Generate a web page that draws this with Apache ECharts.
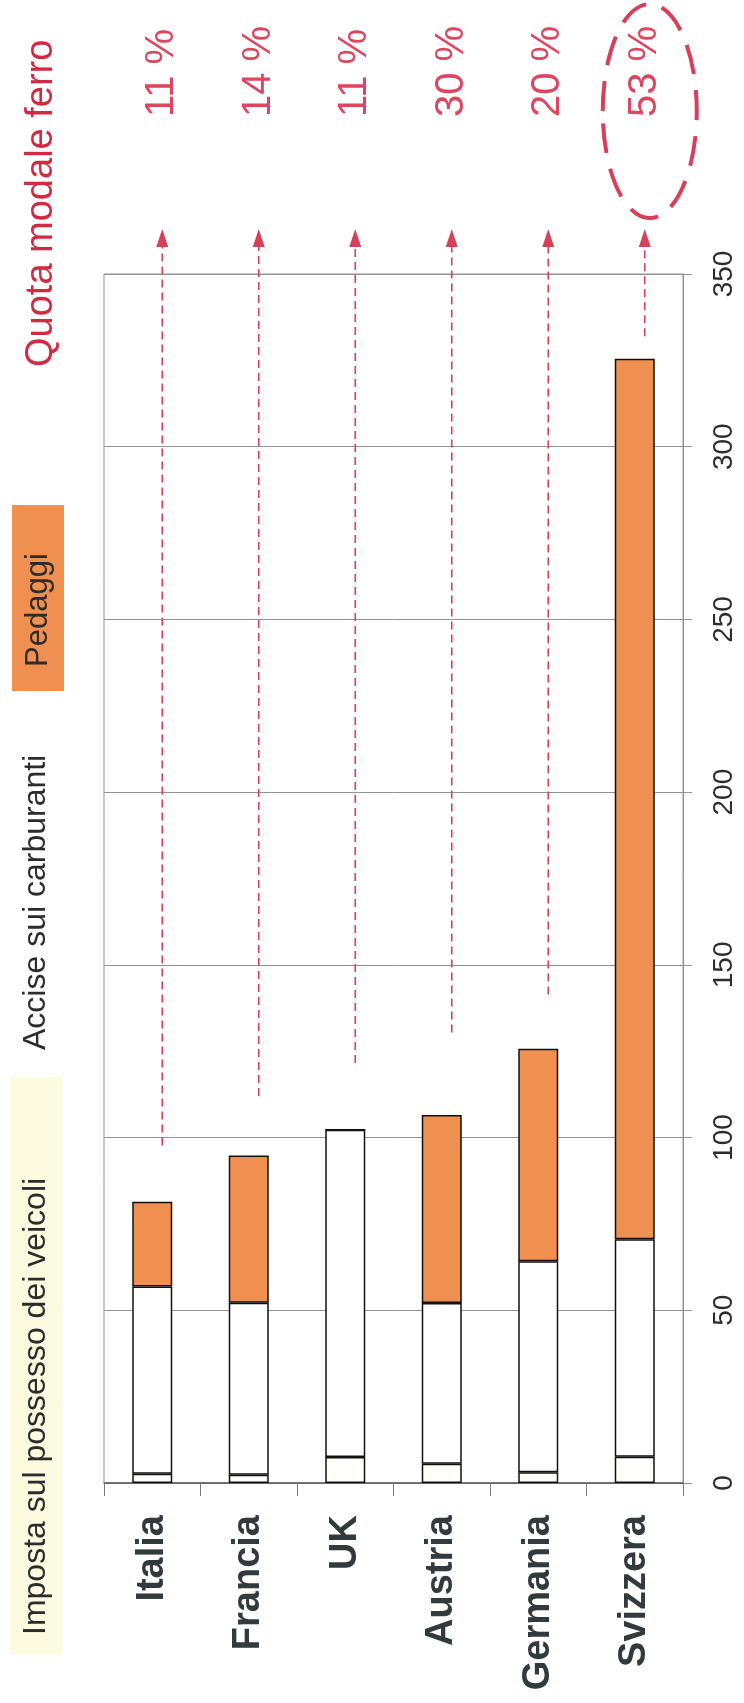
<!DOCTYPE html>
<html>
<head>
<meta charset="utf-8">
<script src="https://cdn.jsdelivr.net/npm/echarts@6/dist/echarts.min.js"></script>
<style>
  html, body { margin: 0; padding: 0; background: #ffffff; }
  #chart { width: 744px; height: 1703px; }
</style>
</head>
<body>
<div id="chart"></div>
<script>
// Road charges per country, stacked by type of levy
const categories = ['Italia', 'Francia', 'UK', 'Austria', 'Germania', 'Svizzera'];
const impostaPossesso = [2.7, 2.4, 7.5, 5.6, 3.1, 7.6];
const acciseCarburanti = [54.2, 49.8, 94.8, 46.5, 61.1, 63.0];
const pedaggi = [24.5, 42.6, 0, 54.4, 61.5, 254.9];

// Rail modal share per country, with the arrow that points to it
const quotaModaleFerro = ['11 %', '14 %', '11 %', '30 %', '20 %', '53 %'];
const arrowFrom = [97.7, 112, 121.6, 130.4, 141.4, 332];
const arrowTo = 363;
const highlighted = 'Svizzera';

const seriesNames = ['Imposta sul possesso dei veicoli', 'Accise sui carburanti', 'Pedaggi'];
const titleText = 'Quota modale ferro';

const FONT = '"Liberation Sans", Arial, Helvetica, sans-serif';
const ORANGE = '#EF8F50';
const PALE = '#FCFADF';
const RED_TITLE = '#D22A40';
const RED_PCT = '#DC4660';
const RED_ARROW = '#D8405A';
const INK = '#2c2c2c';
const GRID = '#929292';

const chart = echarts.init(document.getElementById('chart'), null, { renderer: 'canvas' });

const barBorder = { borderColor: '#111', borderWidth: 1.5 };

function rotatedText(text, x, y, size, color, weight) {
  return {
    type: 'text', x: x, y: y, rotation: Math.PI / 2, z: 10,
    style: {
      text: text, fill: color, fontSize: size, fontFamily: FONT, fontWeight: weight || 'normal',
      align: 'left', textAlign: 'left', verticalAlign: 'middle', textVerticalAlign: 'middle'
    }
  };
}

const option = {
  backgroundColor: '#ffffff',
  animation: false,
  grid: {
    left: 104, right: 61, top: 274, bottom: 220,
    show: true, borderColor: GRID, borderWidth: 1, backgroundColor: 'transparent'
  },
  xAxis: {
    type: 'category',
    data: categories,
    position: 'bottom',
    boundaryGap: true,
    axisLine: { show: true, lineStyle: { color: '#5a5a5a', width: 1.5 } },
    axisTick: { show: true, length: 13, lineStyle: { color: '#7a7a7a', width: 1 } },
    axisLabel: {
      rotate: 90, margin: 32, fontSize: 38, fontWeight: 'bold', fontFamily: FONT, color: '#333a3e'
    },
    splitLine: { show: false }
  },
  yAxis: {
    type: 'value',
    position: 'right',
    min: 0, max: 350, interval: 50,
    axisLine: { show: true, lineStyle: { color: GRID, width: 1 } },
    axisTick: { show: true, length: 9, lineStyle: { color: GRID, width: 1 } },
    axisLabel: { rotate: 90, margin: 27, fontSize: 28, fontFamily: FONT, color: INK },
    splitLine: { show: true, lineStyle: { color: GRID, width: 1 } }
  },
  series: [
    {
      name: seriesNames[0], type: 'bar', stack: 'tot', barWidth: 40,
      itemStyle: Object.assign({ color: '#FFFFFC' }, barBorder),
      data: impostaPossesso
    },
    {
      name: seriesNames[1], type: 'bar', stack: 'tot', barWidth: 40,
      itemStyle: Object.assign({ color: '#FFFFFF' }, barBorder),
      data: acciseCarburanti
    },
    {
      name: seriesNames[2], type: 'bar', stack: 'tot', barWidth: 40,
      itemStyle: Object.assign({ color: ORANGE }, barBorder),
      data: pedaggi
    },
    {
      // dashed arrows leading to the rail share of each country
      type: 'custom',
      clip: false,
      z: 5,
      encode: { x: 0, y: [1, 2] },
      data: arrowFrom.map(function (v, i) { return [i, v, arrowTo]; }),
      renderItem: function (params, api) {
        const i = params.dataIndex;
        const base = api.coord([api.value(0), api.value(1)]);
        const tip = api.coord([api.value(0), api.value(2)]);
        const x = base[0] + 10;
        const headLen = 18, headHalf = 6;
        const children = [
          {
            type: 'line',
            shape: { x1: x, y1: base[1], x2: x, y2: tip[1] + headLen },
            style: { stroke: RED_ARROW, lineWidth: 1.6, lineDash: [8, 5] }
          },
          {
            type: 'polygon',
            shape: { points: [[x, tip[1]], [x - headHalf, tip[1] + headLen], [x + headHalf, tip[1] + headLen]] },
            style: { fill: RED_ARROW }
          },
          {
            type: 'text', x: x, y: tip[1] - 112, rotation: Math.PI / 2,
            style: {
              text: quotaModaleFerro[i], fill: RED_PCT, fontSize: 40, fontFamily: FONT,
              align: 'left', verticalAlign: 'middle'
            }
          }
        ];
        if (categories[i] === highlighted) {
          children.push({
            type: 'ellipse',
            shape: { cx: x + 5, cy: tip[1] - 118, rx: 47, ry: 107 },
            style: { fill: null, stroke: RED_ARROW, lineWidth: 4, lineDash: [30, 16] }
          });
        }
        return { type: 'group', children: children };
      }
    }
  ],
  graphic: [
    // legend column and heading, written bottom to top
    { type: 'rect', shape: { x: 10, y: 1077, width: 52, height: 577 }, style: { fill: PALE }, z: 1 },
    rotatedText(seriesNames[0], 36, 1635, 32, INK),
    rotatedText(seriesNames[1], 36, 1050, 32, INK),
    { type: 'rect', shape: { x: 12, y: 505, width: 52, height: 186 }, style: { fill: ORANGE }, z: 1 },
    rotatedText(seriesNames[2], 38, 667, 31, INK),
    rotatedText(titleText, 42, 367, 38, RED_TITLE)
  ]
};

chart.setOption(option);
</script>
</body>
</html>
